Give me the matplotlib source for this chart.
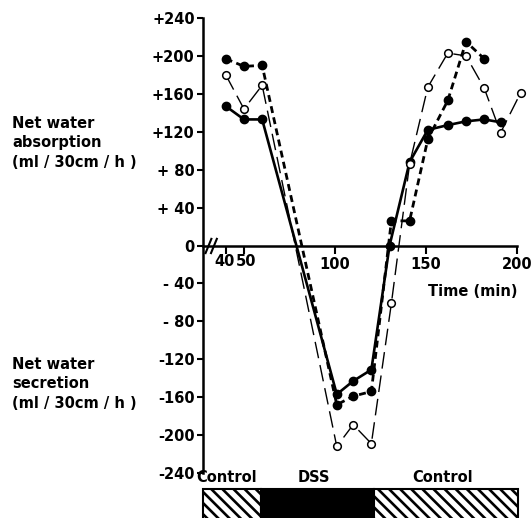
import matplotlib
matplotlib.use('Agg')
import matplotlib.pyplot as plt
from matplotlib.patches import Rectangle

# series (time in min, flux in ml/30cm/h)
t_solid = [40, 50, 60, 101, 110, 120, 130, 141, 151, 162, 172, 182, 191]
v_solid = [147, 133, 133, -157, -143, -131, 0, 88, 122, 127, 131, 133, 130]

t_dot = [40, 50, 60, 101, 110, 120, 131, 141, 151, 162, 172, 182]
v_dot = [197, 189, 190, -168, -159, -154, 26, 26, 112, 153, 215, 197]

t_open = [40, 50, 60, 101, 110, 120, 131, 141, 151, 162, 172, 182, 191, 202]
v_open = [180, 144, 169, -212, -189, -209, -61, 86, 167, 203, 200, 166, 119, 161]

ytick_vals = [240, 200, 160, 120, 80, 40, 0, -40, -80, -120, -160, -200, -240]
ytick_labels = ['+240', '+200', '+160', '+120', '+ 80', '+ 40', '0',
                '- 40', '- 80', '-120', '-160', '-200', '-240']
xtick_vals = [40, 50, 100, 150, 200]
xtick_labels = ['40', '50', '100', '150', '200']

phase_names = ['Control', 'DSS', 'Control']
phase_edges = [27.5, 59.5, 121.5, 200.5]
phase_label_x = [40.5, 88.5, 159]

plt.rcParams['hatch.linewidth'] = 1.9
plt.rcParams['font.family'] = 'DejaVu Sans'

fig = plt.figure(figsize=(5.32, 5.18), dpi=100)
ax = fig.add_axes([203/532, 1 - 473/518, 315.8/532, 455/518])
ax.set_xlim(27.5, 201)
ax.set_ylim(-240, 240)

for s in ['top', 'right']:
    ax.spines[s].set_visible(False)
ax.spines['bottom'].set_position(('data', 0))
ax.spines['bottom'].set_bounds(27.5, 200)
ax.spines['left'].set_linewidth(1.8)
ax.spines['bottom'].set_linewidth(1.8)

ax.plot(t_solid, v_solid, '-', color='black', lw=1.9, marker='o', ms=6,
        mfc='black', mec='black', zorder=3)
ax.plot(t_dot, v_dot, color='black', lw=2.0, ls=(0, (2.5, 1.6)), marker='o', ms=6,
        mfc='black', mec='black', zorder=3)
ax.plot(t_open, v_open, color='black', lw=1.0, ls=(0, (12, 5)), marker='o', ms=5.5,
        mfc='white', mec='black', mew=1.1, zorder=4, clip_on=False)

ax.set_yticks(ytick_vals)
ax.set_yticklabels(ytick_labels, fontsize=10.5, fontweight='bold')
ax.tick_params(axis='y', direction='out', length=4, width=1.5, pad=2)
ax.set_xticks(xtick_vals)
# 40 and 50 sit too close for normal labels; they are written by hand below
ax.set_xticklabels([''] * 2 + xtick_labels[2:], fontsize=10.5, fontweight='bold')
ax.tick_params(axis='x', direction='out', length=6, width=1.5, pad=2)
ax.text(39.2, -9, xtick_labels[0], ha='center', va='top', fontsize=10.5,
        fontweight='bold')
ax.text(51.3, -9, xtick_labels[1], ha='center', va='top', fontsize=10.5,
        fontweight='bold')

# axis break marks
for xb in [30.5, 33.5]:
    ax.plot([xb - 1.6, xb + 1.6], [-8, 7], color='black', lw=1.5, clip_on=False)

ax.text(200.5, -48, 'Time (min)', ha='right', va='center', fontsize=10.5,
        fontweight='bold')

fig.text(12/532, 1 - 143/518, 'Net water\nabsorption\n(ml / 30cm / h )',
         ha='left', va='center', fontsize=10.5, fontweight='bold', linespacing=1.35)
fig.text(12/532, 1 - 384/518, 'Net water\nsecretion\n(ml / 30cm / h )',
         ha='left', va='center', fontsize=10.5, fontweight='bold', linespacing=1.35)

# treatment bar
bx = fig.add_axes([203/532, 0, 315.8/532, 29/518])
bx.set_xlim(27.5, 201)
bx.set_ylim(0, 1)
bx.axis('off')
for i, name in enumerate(phase_names):
    x0, x1 = phase_edges[i], phase_edges[i + 1]
    if name == 'DSS':
        r = Rectangle((x0, -0.3), x1 - x0, 1.3, facecolor='black', edgecolor='black', lw=1.5)
    else:
        r = Rectangle((x0, -0.3), x1 - x0, 1.3, facecolor='white', edgecolor='black',
                      hatch='\\\\\\', lw=1.5)
    r.set_clip_on(False)
    bx.add_patch(r)
for name, xp in zip(phase_names, phase_label_x):
    bx.text(xp, 1.24, name, ha='center', va='baseline', fontsize=10.5, fontweight='bold')

fig.savefig('out.png', dpi=100)
